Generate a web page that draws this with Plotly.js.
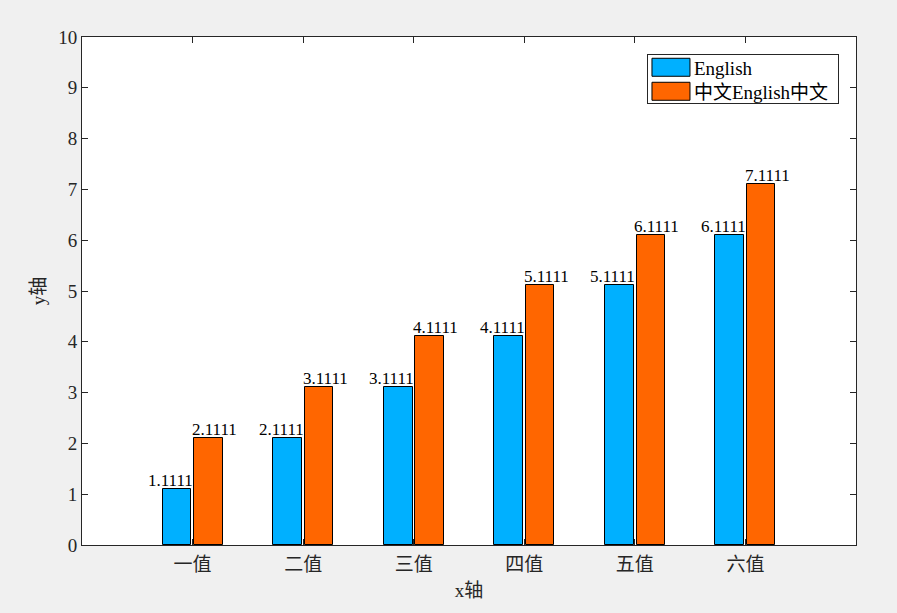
<!DOCTYPE html>
<html><head><meta charset="utf-8">
<script src="https://cdn.plot.ly/plotly-3.0.1.min.js"></script>
<style>html,body{margin:0;padding:0;background:#f0f0f0;}</style>
</head><body>
<div id="chart" style="width:897px;height:613px;"></div>
<script>
const categories = ['一值','二值','三值','四值','五值','六值'];
const seriesNames = ['English','中文English中文'];
const englishValues = [1.1111, 2.1111, 3.1111, 4.1111, 5.1111, 6.1111];
const chineseValues = [2.1111, 3.1111, 4.1111, 5.1111, 6.1111, 7.1111];
const yTicks = [0,1,2,3,4,5,6,7,8,9,10];

const FONT = '"Liberation Serif", "Times New Roman", "Noto Sans CJK SC", serif';
const idx = categories.map((c,i)=>i);

const traces = [
  {type:'bar', name:seriesNames[0], x:idx, y:englishValues, offset:-0.271, width:0.26,
   marker:{color:'#00B0FF', line:{color:'#000', width:1}}},
  {type:'bar', name:seriesNames[1], x:idx, y:chineseValues, offset:0.015, width:0.256,
   marker:{color:'#FF6600', line:{color:'#000', width:1}}}
];

const fmt = v => v.toFixed(4);
const annotations = [];
englishValues.forEach((v,i)=>annotations.push({x:i-0.2, y:v, xref:'x', yref:'y', text:fmt(v), showarrow:false, xanchor:'center', yanchor:'bottom', yshift:-3, font:{family:FONT,size:17,color:'#000'}}));
chineseValues.forEach((v,i)=>annotations.push({x:i+0.2, y:v, xref:'x', yref:'y', text:fmt(v), showarrow:false, xanchor:'center', yanchor:'bottom', yshift:-3, font:{family:FONT,size:17,color:'#000'}}));

const layout = {
  width:897, height:613,
  paper_bgcolor:'#f0f0f0', plot_bgcolor:'#ffffff',
  margin:{l:82, r:41, t:37, b:68},
  font:{family:FONT, size:19, color:'#262626'},
  showlegend:true,
  legend:{x:0.978, y:0.966, xanchor:'right', yanchor:'top', bgcolor:'#ffffff', bordercolor:'#262626', borderwidth:1,
          font:{family:FONT, size:19, color:'#000'}, tracegroupgap:0, itemwidth:40},
  xaxis:{range:[-1,6], tickmode:'array', tickvals:idx, ticktext:categories,
         ticks:'inside', ticklen:6, tickcolor:'#262626', showline:true, linecolor:'#262626', linewidth:1,
         mirror:'allticks', showgrid:false, zeroline:false, ticklabelstandoff:2,
         title:{text:'x轴', font:{family:FONT,size:19,color:'#262626'}, standoff:9}},
  yaxis:{range:[0,10], tickmode:'array', tickvals:yTicks,
         ticks:'inside', ticklen:6, tickcolor:'#262626', showline:true, linecolor:'#262626', linewidth:1,
         mirror:'allticks', showgrid:false, zeroline:false,
         title:{text:'y轴', font:{family:FONT,size:19,color:'#262626'}, standoff:7}},
  annotations:annotations,
  bargap:0
};
function styleLegend(){
  const lg = document.querySelector('#chart .legend');
  if(!lg) return;
  lg.querySelectorAll('.legendpoints path').forEach(p=>{
    p.setAttribute('d','M-21,9H17V-9H-21Z');
    p.style.strokeWidth='1px';
    p.style.stroke='#000';
  });
  lg.querySelectorAll('.traces').forEach((t,i)=>{
    const m = (t.getAttribute('transform')||'').match(/translate\(\s*([-\d.]+)[ ,]+([-\d.]+)\s*\)/);
    if(m) t.setAttribute('transform','translate('+m[1]+','+(13+24*i)+')');
  });
  lg.querySelectorAll('text.legendtext').forEach(tx=>{
    const x = parseFloat(tx.getAttribute('x')||'0');
    tx.setAttribute('x', x-4);
  });
  const bg = lg.querySelector('rect.bg');
  if(bg) bg.setAttribute('height', 49);
}
Plotly.newPlot('chart', traces, layout, {displayModeBar:false}).then(styleLegend);
</script>
</body></html>
